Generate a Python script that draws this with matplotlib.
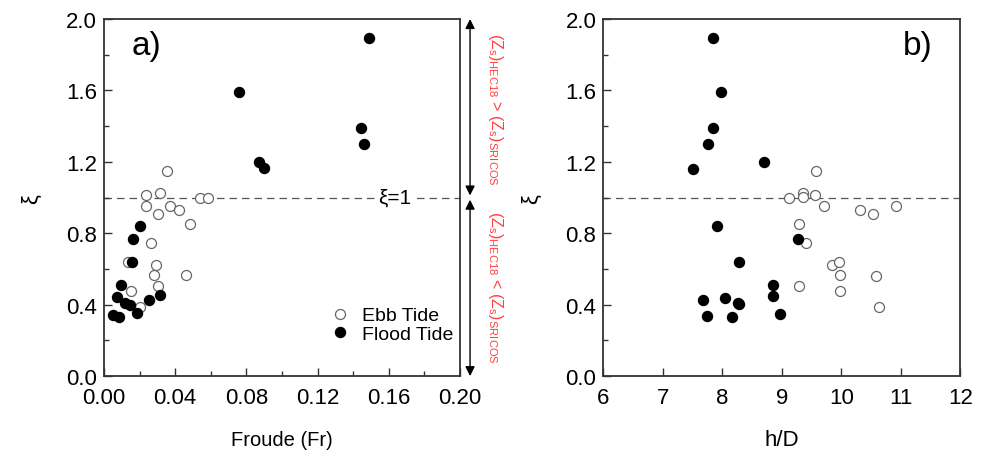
import numpy as np
import matplotlib
matplotlib.use("Agg")
import matplotlib.pyplot as plt
from matplotlib.ticker import MultipleLocator

plt.rcParams["font.family"] = ["Liberation Sans", "DejaVu Sans"]
plt.rcParams["mathtext.fontset"] = "custom"
plt.rcParams["mathtext.rm"] = "Liberation Sans"
plt.rcParams["mathtext.it"] = "Liberation Sans"

############### Data ###############

# panel a) Froude number vs xi
fr_ebb = [0.0354, 0.0234, 0.0313, 0.0234, 0.0373, 0.0302, 0.0423, 0.0541, 0.0582,
          0.0481, 0.0264, 0.0134, 0.0294, 0.0283, 0.0460, 0.0302, 0.0154, 0.0204]
xi_ebb_a = [1.150, 1.013, 1.028, 0.953, 0.953, 0.908, 0.929, 1.000, 1.000,
            0.854, 0.745, 0.638, 0.624, 0.567, 0.564, 0.504, 0.478, 0.386]
fr_flood = [0.0204, 0.0161, 0.0156, 0.0094, 0.0074, 0.0120, 0.0148, 0.0255, 0.0313,
            0.0052, 0.0087, 0.0186, 0.0871, 0.0899, 0.0761, 0.1489, 0.1441, 0.1459]
xi_flood_a = [0.839, 0.770, 0.638, 0.511, 0.442, 0.410, 0.399, 0.429, 0.455,
              0.343, 0.330, 0.352, 1.200, 1.163, 1.594, 1.893, 1.392, 1.302]

# panel b) h/D vs xi
hd_ebb = [9.572, 9.119, 9.361, 9.361, 9.555, 9.701, 10.316, 10.534, 10.926,
          9.282, 9.404, 9.835, 9.963, 9.980, 10.574, 9.293, 9.970, 10.635]
xi_ebb_b = [1.148, 0.998, 1.028, 1.002, 1.015, 0.953, 0.929, 0.908, 0.953,
            0.854, 0.743, 0.620, 0.638, 0.567, 0.562, 0.502, 0.478, 0.386]
hd_flood = [7.849, 7.973, 7.849, 7.755, 7.514, 8.705, 7.916, 9.270, 8.275,
            8.851, 7.681, 8.045, 8.286, 8.846, 7.738, 8.158, 8.973, 8.270]
xi_flood_b = [1.893, 1.594, 1.392, 1.302, 1.161, 1.200, 0.841, 0.770, 0.638,
              0.511, 0.429, 0.440, 0.403, 0.451, 0.339, 0.331, 0.350, 0.410]

############### Plotting ###############

fig = plt.figure(figsize=(9.81, 4.56), dpi=100)
ax_a = fig.add_axes([0.106, 0.173, 0.363, 0.783])
ax_b = fig.add_axes([0.615, 0.173, 0.364, 0.783])

ms = 7.2
spine_col = "#333333"


def style_axis(ax):
    for s in ax.spines.values():
        s.set_color(spine_col)
        s.set_linewidth(1.3)
    ax.tick_params(which="both", direction="in", top=False, right=False,
                   color=spine_col, labelsize=16, width=1.0)
    ax.tick_params(which="major", length=6)
    ax.tick_params(which="minor", length=3.5)
    ax.tick_params(axis="x", which="major", pad=8)
    ax.tick_params(axis="y", which="major", pad=5)
    ax.set_ylim(0, 2.0)
    ax.yaxis.set_major_locator(MultipleLocator(0.4))
    ax.yaxis.set_minor_locator(MultipleLocator(0.2))
    ax.yaxis.set_major_formatter(plt.FormatStrFormatter("%.1f"))
    ax.set_ylabel("ξ", fontsize=16, labelpad=17)
    ax.axhline(1.0, color="#555555", lw=0.9, ls=(0, (6, 4)), zorder=1)


### a)
ax_a.plot(fr_ebb, xi_ebb_a, "o", ms=ms, mfc="white", mec="#666666", mew=0.9,
          ls="none", label="Ebb Tide", zorder=3)
ax_a.plot(fr_flood, xi_flood_a, "o", ms=ms, mfc="black", mec="black",
          ls="none", label="Flood Tide", zorder=3)
style_axis(ax_a)
ax_a.set_xlim(0, 0.20)
ax_a.xaxis.set_major_locator(MultipleLocator(0.04))
ax_a.xaxis.set_minor_locator(MultipleLocator(0.02))
ax_a.xaxis.set_major_formatter(plt.FormatStrFormatter("%.2f"))
ax_a.set_xlabel("Froude (Fr)", fontsize=14.5, labelpad=16)
ax_a.text(0.12, 0.925, "a)", transform=ax_a.transAxes, fontsize=24,
          ha="center", va="center")
ax_a.text(0.163, 1.0, "ξ=1", fontsize=15, ha="center", va="center",
          bbox=dict(facecolor="white", edgecolor="none", pad=1), zorder=2)
ax_a.legend(loc="lower right", bbox_to_anchor=(1.015, 0.06), frameon=False,
            fontsize=14, handletextpad=0.5, labelspacing=0.05,
            handlelength=1.3, borderaxespad=0.2)

# range arrows with red labels, outside panel a
arrow_x = 1.028
ax_a.annotate("", xy=(arrow_x, 1.0), xytext=(arrow_x, 0.506),
              xycoords="axes fraction", textcoords="axes fraction",
              arrowprops=dict(arrowstyle="<|-|>", color="black", lw=1.0,
                              mutation_scale=14, shrinkA=0, shrinkB=0))
ax_a.annotate("", xy=(arrow_x, 0.494), xytext=(arrow_x, 0.0),
              xycoords="axes fraction", textcoords="axes fraction",
              arrowprops=dict(arrowstyle="<|-|>", color="black", lw=1.0,
                              mutation_scale=14, shrinkA=0, shrinkB=0))
red = "#ff4040"
ax_a.text(1.1, 0.75, r"$(\mathrm{Z_s})_{\mathrm{HEC18}}$ > $(\mathrm{Z_s})_{\mathrm{SRICOS}}$",
          transform=ax_a.transAxes, rotation=-90, color=red, fontsize=11.5,
          ha="center", va="center")
ax_a.text(1.1, 0.25, r"$(\mathrm{Z_s})_{\mathrm{HEC18}}$ < $(\mathrm{Z_s})_{\mathrm{SRICOS}}$",
          transform=ax_a.transAxes, rotation=-90, color=red, fontsize=11.5,
          ha="center", va="center")

### b)
ax_b.plot(hd_ebb, xi_ebb_b, "o", ms=ms, mfc="white", mec="#666666", mew=0.9,
          ls="none", zorder=3)
ax_b.plot(hd_flood, xi_flood_b, "o", ms=ms, mfc="black", mec="black",
          ls="none", zorder=3)
style_axis(ax_b)
ax_b.set_xlim(6, 12)
ax_b.xaxis.set_major_locator(MultipleLocator(1))
ax_b.set_xlabel("h/D", fontsize=16, labelpad=15)
ax_b.text(0.88, 0.925, "b)", transform=ax_b.transAxes, fontsize=24,
          ha="center", va="center")

fig.savefig("out.png", dpi=100)
